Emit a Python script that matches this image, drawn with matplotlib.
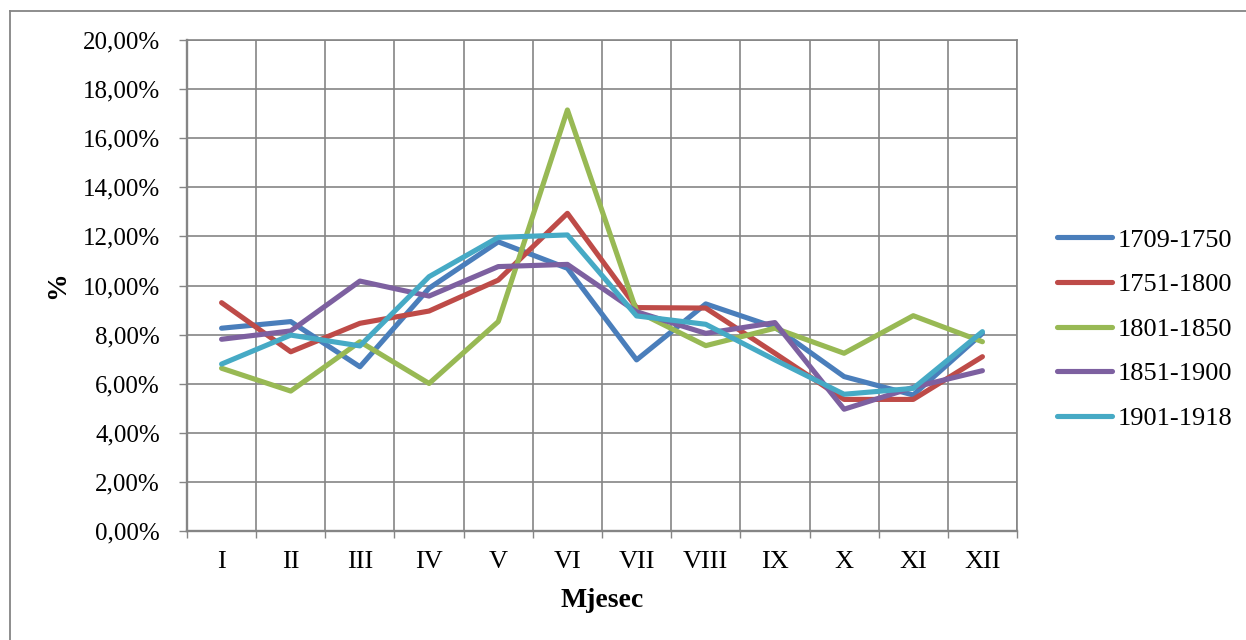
import matplotlib.pyplot as plt
from matplotlib.lines import Line2D
from matplotlib.ticker import FuncFormatter, FixedLocator

plt.rcParams['font.family'] = ['Liberation Serif', 'DejaVu Serif']

months = ["I", "II", "III", "IV", "V", "VI", "VII", "VIII", "IX", "X", "XI", "XII"]
p1709_1750 = [8.26, 8.53, 6.69, 9.89, 11.78, 10.70, 6.97, 9.25, 8.30, 6.29, 5.54, 8.05]
p1751_1800 = [9.30, 7.30, 8.46, 8.96, 10.22, 12.94, 9.10, 9.08, 7.24, 5.36, 5.36, 7.10]
p1801_1850 = [6.63, 5.70, 7.71, 6.01, 8.53, 17.15, 8.95, 7.55, 8.26, 7.24, 8.77, 7.71]
p1851_1900 = [7.81, 8.15, 10.18, 9.57, 10.77, 10.86, 8.93, 8.05, 8.49, 4.96, 5.85, 6.53]
p1901_1918 = [6.80, 7.98, 7.54, 10.36, 11.96, 12.06, 8.76, 8.42, 6.97, 5.57, 5.81, 8.12]

series = [
    ("1709-1750", p1709_1750, "#4a7ebb"),
    ("1751-1800", p1751_1800, "#be4b48"),
    ("1801-1850", p1801_1850, "#98b954"),
    ("1851-1900", p1851_1900, "#7d60a0"),
    ("1901-1918", p1901_1918, "#46aac5"),
]

W, H = 1246, 640
fig = plt.figure(figsize=(W / 100, H / 100), dpi=100)
ax = fig.add_axes([187 / W, 1 - 531 / H, (1017 - 187) / W, (531 - 40) / H])

x = list(range(len(months)))
for name, vals, col in series:
    ax.plot(x, vals, color=col, lw=3.7, label=name,
            solid_capstyle='round', solid_joinstyle='round')

grey = "#858585"
ax.set_xlim(-0.5, len(months) - 0.5)
ax.set_ylim(0, 20)
ax.set_yticks(range(0, 21, 2))
ax.yaxis.set_major_formatter(FuncFormatter(lambda v, p: f"{v:.2f}%".replace('.', ',')))

# category boundaries carry the ticks and gridlines, labels sit in between
ax.xaxis.set_major_locator(FixedLocator([i - 0.5 for i in range(len(months) + 1)]))
ax.xaxis.set_minor_locator(FixedLocator(x))
ax.set_xticklabels([], minor=False)
ax.set_xticklabels(months, minor=True)
ax.tick_params(axis='x', which='major', length=5, width=1, color=grey)
ax.tick_params(axis='x', which='minor', length=0, pad=14.5, labelsize=19)
ax.tick_params(axis='y', length=6, width=1, color=grey, pad=13.5, labelsize=18)

ax.grid(True, which='major', color=grey, lw=1.2)
ax.set_axisbelow(True)
for s in ax.spines.values():
    s.set_color(grey)
    s.set_linewidth(1.2)
ax.spines['bottom'].set_linewidth(1.7)
ax.spines['left'].set_linewidth(1.7)

ax.set_xlabel("Mjesec", fontsize=20, fontweight='bold', labelpad=11)
ax.set_ylabel("%", fontsize=20, fontweight='bold', labelpad=9)

ax.legend(loc='center left', bbox_to_anchor=(1057 / W, 1 - 329 / H),
          bbox_transform=fig.transFigure, frameon=False, fontsize=19,
          handlelength=2.1, handletextpad=0.2, labelspacing=0.8,
          borderpad=0, borderaxespad=0)

# outer chart border (only top and left edges are inside the picture)
fig.add_artist(Line2D([10 / W, 10 / W], [0, 1 - 11 / H], transform=fig.transFigure,
                      color=grey, lw=1.3))
fig.add_artist(Line2D([10 / W, 1], [1 - 11 / H, 1 - 11 / H], transform=fig.transFigure,
                      color=grey, lw=1.3))

fig.savefig("out.png", dpi=100)
